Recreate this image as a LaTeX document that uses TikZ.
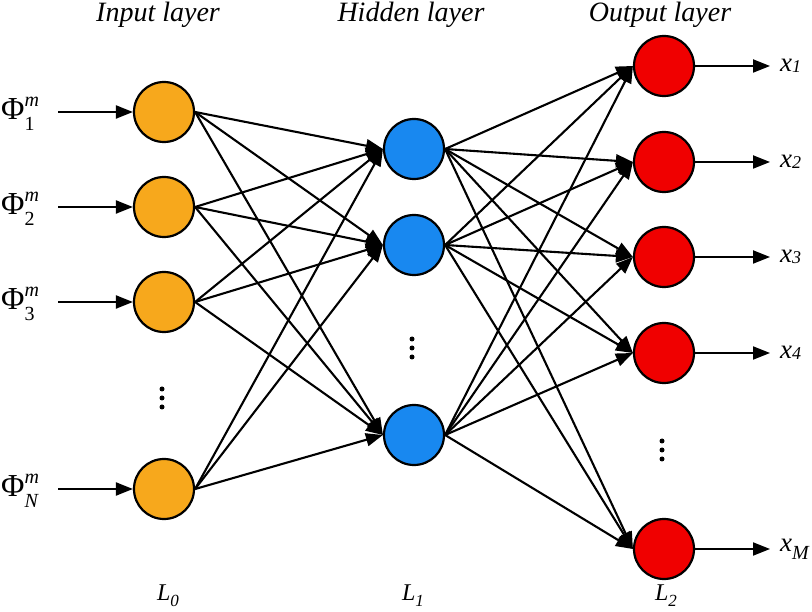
\documentclass[tikz,border=0pt]{standalone}
\usepackage{fontspec}
\setmainfont{Liberation Serif}
\usetikzlibrary{arrows.meta}
\definecolor{inorange}{RGB}{247,168,28}
\definecolor{hidblue}{RGB}{24,136,240}
\definecolor{outred}{RGB}{240,0,0}
\newcommand\philab[1]{\fontsize{32}{32}\selectfont Φ\rlap{\raisebox{0.40em}{\fontsize{20}{20}\selectfont\itshape m}}\raisebox{-0.36em}{\fontsize{20}{20}\selectfont #1}}
\newcommand\xlab[1]{\fontsize{27}{27}\selectfont\itshape x\raisebox{-0.05em}{\fontsize{18}{18}\selectfont #1}}
\newcommand\llab[1]{\fontsize{24}{24}\selectfont\itshape L\raisebox{-0.25em}{\fontsize{17}{17}\selectfont #1}}
\begin{document}
\begin{tikzpicture}[x=1pt,y=-1pt,
  neuron/.style={circle,draw=black,line width=2.2pt,minimum size=60pt,inner sep=0pt},
  conn/.style={line width=2.1pt,-{Triangle[length=17pt,width=13pt]}},
  title/.style={font=\fontsize{28}{28}\selectfont\itshape},
  vdot/.style={circle,fill=black,inner sep=0pt,minimum size=5pt}]
\useasboundingbox (0,0) rectangle (812,612);
% titles
\node[title] (tin) at (158,15) {Input layer};
\node[title] (thid) at (411,15) {Hidden layer};
\node[title] (tout) at (660,15) {Output layer};
% input layer
\foreach \n/\y in {1/112,2/207,3/302,4/489}
  \node[neuron,fill=inorange] (i\n) at (164,\y) {};
% hidden layer
\foreach \n/\y in {1/149,2/245,3/435}
  \node[neuron,fill=hidblue] (h\n) at (414,\y) {};
% output layer
\foreach \n/\y in {1/66,2/162,3/257,4/353,5/549}
  \node[neuron,fill=outred] (o\n) at (664,\y) {};
% dots
\foreach \d in {-9,0,9} {
  \node[vdot] at (162,398+\d) {};
  \node[vdot] at (412,348+\d) {};
  \node[vdot] at (662,450+\d) {};
}
% connections
\foreach \i in {1,2,3,4}
  \foreach \j in {1,2,3}
    \draw[conn] (i\i.east) -- (h\j.west);
\foreach \j in {1,2,3}
  \foreach \k in {1,2,3,4,5}
    \draw[conn] (h\j.east) -- (o\k.west);
% inputs
\node[anchor=west,inner sep=0pt] (pl1) at (1,114) {\philab{1}};
\node[anchor=west,inner sep=0pt] (pl2) at (1,209) {\philab{2}};
\node[anchor=west,inner sep=0pt] (pl3) at (1,304) {\philab{3}};
\node[anchor=west,inner sep=0pt] (pl4) at (1,491) {\philab{\itshape N}};
\foreach \n/\y in {1/112,2/207,3/302,4/489} {
  \coordinate (s\n) at (58,\y);
  \draw[conn] (s\n) -- (i\n.west);
}
% outputs
\foreach \k/\y in {1/66,2/162,3/257,4/353,5/549} {
  \coordinate (e\k) at (770,\y);
  \draw[conn] (o\k.east) -- (e\k);
}
\node[anchor=west,inner sep=0pt] (xl1) at (780,66) {\xlab{1}};
\node[anchor=west,inner sep=0pt] (xl2) at (780,162) {\xlab{2}};
\node[anchor=west,inner sep=0pt] (xl3) at (780,257) {\xlab{3}};
\node[anchor=west,inner sep=0pt] (xl4) at (780,353) {\xlab{4}};
\node[anchor=west,inner sep=0pt] (xl5) at (780,549) {\fontsize{27}{27}\selectfont\itshape x\raisebox{-0.3em}{\fontsize{20}{20}\selectfont M}};
% layer labels
\node (l0) at (168,596) {\llab{0}};
\node (l1) at (413,596) {\llab{1}};
\node (l2) at (666,596) {\llab{2}};
\end{tikzpicture}
\end{document}
